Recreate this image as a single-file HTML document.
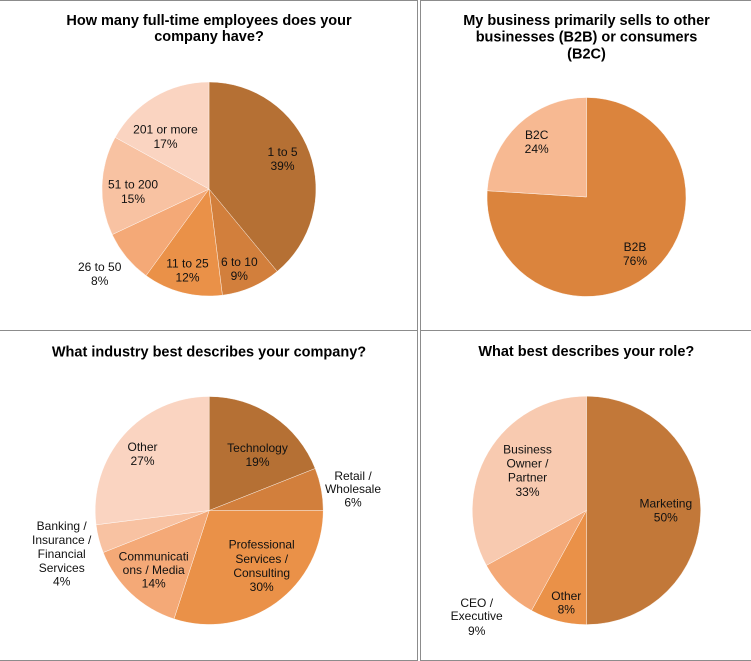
<!DOCTYPE html>
<html>
<head>
<meta charset="utf-8">
<style>
  html,body{margin:0;padding:0;background:#fff;}
  svg{display:block;}
  text{font-family:"Liberation Sans",Arial,sans-serif;fill:#111;}
  .t{font-size:14.5px;font-weight:bold;fill:#000;}
  .l{font-size:12px;}
</style>
</head>
<body>
<svg width="751" height="661" viewBox="0 0 751 661" xmlns="http://www.w3.org/2000/svg">
  <rect x="0" y="0" width="751" height="661" fill="#fff"/>
  <!-- borders -->
  <g stroke="#8c8c8c" stroke-width="1" fill="none">
    <line x1="0" y1="0.5" x2="417.5" y2="0.5"/>
    <line x1="420.5" y1="0.5" x2="751" y2="0.5"/>
    <line x1="0" y1="330.5" x2="417.5" y2="330.5"/>
    <line x1="420.5" y1="330.5" x2="751" y2="330.5"/>
    <line x1="0" y1="660.5" x2="417.5" y2="660.5"/>
    <line x1="420.5" y1="660.5" x2="751" y2="660.5"/>
    <line x1="417.5" y1="0" x2="417.5" y2="661"/>
    <line x1="420.5" y1="0" x2="420.5" y2="661"/>
  </g>

  <!-- Pie 1 -->
  <g stroke="#fff" stroke-width="0.4">
    <path d="M209,189 L209,82 A107,107 0 0 1 277.2,271.4 Z" fill="#B57034"/>
    <path d="M209,189 L277.2,271.4 A107,107 0 0 1 222.4,295.2 Z" fill="#D27F3C"/>
    <path d="M209,189 L222.4,295.2 A107,107 0 0 1 146.1,275.6 Z" fill="#EA9148"/>
    <path d="M209,189 L146.1,275.6 A107,107 0 0 1 112.2,234.6 Z" fill="#F4A977"/>
    <path d="M209,189 L112.2,234.6 A107,107 0 0 1 115.2,137.4 Z" fill="#F8C2A2"/>
    <path d="M209,189 L115.2,137.4 A107,107 0 0 1 209,82 Z" fill="#FAD4C1"/>
  </g>
  <text class="t" text-anchor="middle" x="209" y="25">How many full-time employees does your</text>
  <text class="t" text-anchor="middle" x="209" y="41">company have?</text>
  <g class="l" text-anchor="middle">
    <text class="l" x="165.5" y="133.5">201 or more</text>
    <text class="l" x="165.5" y="148">17%</text>
    <text class="l" x="282.5" y="156">1 to 5</text>
    <text class="l" x="282.5" y="170">39%</text>
    <text class="l" x="133" y="188.5">51 to 200</text>
    <text class="l" x="133" y="203">15%</text>
    <text class="l" x="99.7" y="271">26 to 50</text>
    <text class="l" x="99.7" y="285">8%</text>
    <text class="l" x="187.5" y="267.5">11 to 25</text>
    <text class="l" x="187.5" y="281.5">12%</text>
    <text class="l" x="239.3" y="266">6 to 10</text>
    <text class="l" x="239.3" y="280">9%</text>
  </g>

  <!-- Pie 2 -->
  <g stroke="#fff" stroke-width="0.4">
    <path d="M586.5,197 L586.5,97.5 A99.5,99.5 0 1 1 487.2,190.75 Z" fill="#DB843D"/>
    <path d="M586.5,197 L487.2,190.75 A99.5,99.5 0 0 1 586.5,97.5 Z" fill="#F7B992"/>
  </g>
  <text class="t" text-anchor="middle" x="586.5" y="25">My business primarily sells to other</text>
  <text class="t" text-anchor="middle" x="586.5" y="41.5">businesses (B2B) or consumers</text>
  <text class="t" text-anchor="middle" x="586.5" y="58.5">(B2C)</text>
  <g text-anchor="middle">
    <text class="l" x="536.7" y="139">B2C</text>
    <text class="l" x="536.7" y="153">24%</text>
    <text class="l" x="635" y="251">B2B</text>
    <text class="l" x="635" y="265">76%</text>
  </g>

  <!-- Pie 3 -->
  <g stroke="#fff" stroke-width="0.4">
    <path d="M209.2,510.5 L209.2,396.5 A114,114 0 0 1 315.2,468.5 Z" fill="#B57034"/>
    <path d="M209.2,510.5 L315.2,468.5 A114,114 0 0 1 323.2,510.5 Z" fill="#D27F3C"/>
    <path d="M209.2,510.5 L323.2,510.5 A114,114 0 0 1 174.0,618.9 Z" fill="#EA9148"/>
    <path d="M209.2,510.5 L174.0,618.9 A114,114 0 0 1 103.2,552.5 Z" fill="#F4A977"/>
    <path d="M209.2,510.5 L103.2,552.5 A114,114 0 0 1 96.1,524.8 Z" fill="#F8C2A2"/>
    <path d="M209.2,510.5 L96.1,524.8 A114,114 0 0 1 209.2,396.5 Z" fill="#FAD4C1"/>
  </g>
  <text class="t" text-anchor="middle" x="209" y="356.5">What industry best describes your company?</text>
  <g text-anchor="middle">
    <text class="l" x="142.5" y="451">Other</text>
    <text class="l" x="142.5" y="465">27%</text>
    <text class="l" x="257.5" y="452">Technology</text>
    <text class="l" x="257.5" y="466">19%</text>
    <text class="l" x="353" y="480">Retail /</text>
    <text class="l" x="353" y="493">Wholesale</text>
    <text class="l" x="353" y="506.5">6%</text>
    <text class="l" x="261.7" y="548.5">Professional</text>
    <text class="l" x="261.7" y="563">Services /</text>
    <text class="l" x="261.7" y="577">Consulting</text>
    <text class="l" x="261.7" y="591">30%</text>
    <text class="l" x="153.7" y="560.5">Communicati</text>
    <text class="l" x="153.7" y="574">ons / Media</text>
    <text class="l" x="153.7" y="587.5">14%</text>
    <text class="l" x="61.7" y="530">Banking /</text>
    <text class="l" x="61.7" y="544">Insurance /</text>
    <text class="l" x="61.7" y="558">Financial</text>
    <text class="l" x="61.7" y="572">Services</text>
    <text class="l" x="61.7" y="585.5">4%</text>
  </g>

  <!-- Pie 4 -->
  <g stroke="#fff" stroke-width="0.4">
    <path d="M586.5,510.4 L586.5,396.2 A114.2,114.2 0 0 1 700.7,510.4 A114.2,114.2 0 0 1 586.5,624.6 Z" fill="#C27839"/>
    <path d="M586.5,510.4 L586.5,624.6 A114.2,114.2 0 0 1 531.5,610.5 Z" fill="#EA9148"/>
    <path d="M586.5,510.4 L531.5,610.5 A114.2,114.2 0 0 1 486.4,565.4 Z" fill="#F4A977"/>
    <path d="M586.5,510.4 L486.4,565.4 A114.2,114.2 0 0 1 586.5,396.2 Z" fill="#F8CAB0"/>
  </g>
  <text class="t" text-anchor="middle" x="586.3" y="356">What best describes your role?</text>
  <g text-anchor="middle">
    <text class="l" x="527.5" y="453.5">Business</text>
    <text class="l" x="527.5" y="467.5">Owner /</text>
    <text class="l" x="527.5" y="481.5">Partner</text>
    <text class="l" x="527.5" y="496">33%</text>
    <text class="l" x="665.8" y="507.5">Marketing</text>
    <text class="l" x="665.8" y="521.5">50%</text>
    <text class="l" x="566.3" y="600">Other</text>
    <text class="l" x="566.3" y="613.5">8%</text>
    <text class="l" x="476.7" y="607">CEO /</text>
    <text class="l" x="476.7" y="620">Executive</text>
    <text class="l" x="476.7" y="635">9%</text>
  </g>
</svg>
</body>
</html>
